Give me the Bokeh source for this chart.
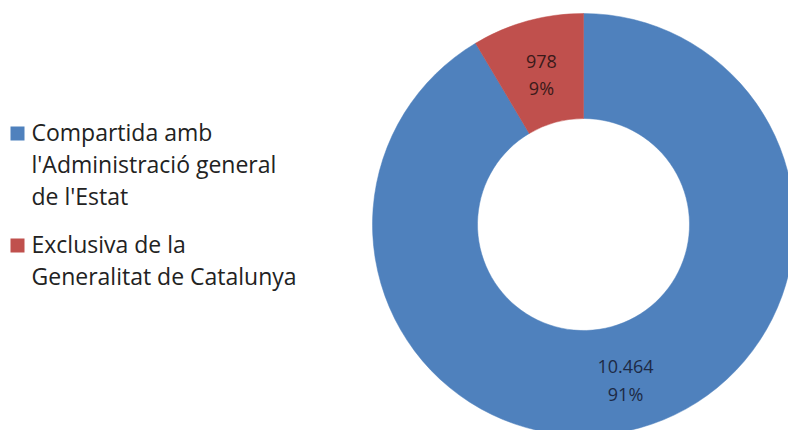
import math
from bokeh.plotting import figure
from bokeh.models import Range1d, ColumnDataSource
from bokeh.core.properties import value
from bokeh.embed import file_html
from bokeh.resources import INLINE

# ---- data ----
categories = ["Compartida amb\nl'Administració general\nde l'Estat",
              "Exclusiva de la\nGeneralitat de Catalunya"]
values = [10464, 978]
colors = ["#4F81BD", "#C0504D"]
label_colors = ["#1d2a45", "#3a1a1a"]

# ---- layout (page pixels) ----
W, H = 788, 430
cx, cy_page = 583, 224
r_out, r_in = 211, 106
FONT = "Open Sans"

def py(page_y):
    return H - page_y

p = figure(width=W, height=H, output_backend="svg", toolbar_location=None,
           x_range=Range1d(0, W), y_range=Range1d(0, H), min_border=0,
           background_fill_color="white", border_fill_color="white")
p.axis.visible = False
p.grid.visible = False
p.outline_line_color = None

total = sum(values)
# red slice starts at top going counter-clockwise; blue fills the rest
order = [1, 0]
start = math.pi / 2
starts, ends, mids = [0] * len(values), [0] * len(values), [0] * len(values)
for i in order:
    a = 2 * math.pi * values[i] / total
    starts[i] = start
    ends[i] = start + a
    mids[i] = start + a / 2
    start += a

src = ColumnDataSource(dict(
    x=[cx] * len(values), y=[py(cy_page)] * len(values),
    start=starts, end=ends, color=colors))
p.annular_wedge(x="x", y="y", inner_radius=r_in, outer_radius=r_out,
                start_angle="start", end_angle="end", fill_color="color",
                line_color="color", line_width=0.5, source=src)

def fmt(v):
    return f"{v:,}".replace(",", ".")

rm = (r_in + r_out) / 2
lab_dy = 13.5
lx, ly, lt, lc = [], [], [], []
for i, v in enumerate(values):
    mx = cx + rm * math.cos(mids[i])
    my = py(cy_page) + rm * math.sin(mids[i]) - 3
    for k, t in enumerate([fmt(v), f"{round(100 * v / total)}%"]):
        lx.append(mx)
        ly.append(my + lab_dy - 2 * lab_dy * k)
        lt.append(t)
        lc.append(label_colors[i])
p.text(x=lx, y=ly, text=lt, text_color=lc,
       text_font=value(FONT), text_font_size="18px", text_align="center",
       text_baseline="middle")

# legend
leg_x_sq, leg_x_txt = 17, 31
line_h, gap = 32, 16
top = 131
tx, ty, tt = [], [], []
for i, name in enumerate(categories):
    lines = name.split("\n")
    p.scatter(x=[leg_x_sq], y=[py(top + 2)], marker="square", size=14,
              fill_color=colors[i], line_color=None)
    for k, ln in enumerate(lines):
        tx.append(leg_x_txt)
        ty.append(py(top + k * line_h))
        tt.append(ln)
    top += len(lines) * line_h + gap
p.text(x=tx, y=ty, text=tt, text_color="#222222",
       text_font=value(FONT), text_font_size="23px", text_align="left",
       text_baseline="middle")

open("out.html", "w").write(file_html(p, INLINE))
